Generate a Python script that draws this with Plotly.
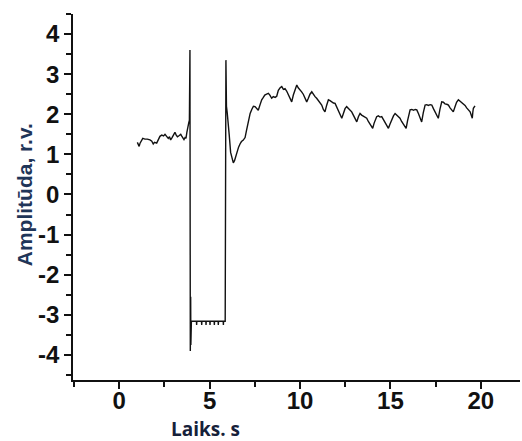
import plotly.graph_objects as go

# Time (s) and amplitude (r.v.)
time_s = [
    1.00, 1.05, 1.10, 1.15, 1.22, 1.30, 1.42, 1.55, 1.70, 1.80, 1.88, 1.95, 2.07, 2.15, 2.25,
    2.35, 2.45, 2.53, 2.62, 2.71, 2.78, 2.84, 2.92, 3.00, 3.08, 3.15, 3.22, 3.32, 3.40, 3.45,
    3.52, 3.58, 3.64, 3.69, 3.74, 3.78, 3.84, 3.88,
    3.91, 3.93, 3.95, 3.96, 3.99,
    4.27, 4.28, 4.29, 4.55, 4.56, 4.57, 4.79, 4.80, 4.81, 5.01, 5.02, 5.03, 5.25, 5.26, 5.27,
    5.47, 5.48, 5.49, 5.75, 5.76, 5.77, 5.86,
    5.90, 5.93, 5.97, 6.02, 6.08, 6.16, 6.24, 6.31, 6.38, 6.45, 6.52, 6.60, 6.68, 6.76, 6.85,
    6.96, 7.04, 7.14, 7.24, 7.33, 7.42, 7.51, 7.60, 7.69, 7.79, 7.88, 7.97, 8.05, 8.15, 8.25,
    8.34, 8.43, 8.52, 8.62, 8.71, 8.80, 8.90, 8.99, 9.08, 9.17, 9.26, 9.35, 9.45, 9.54, 9.63,
    9.72, 9.82, 9.90, 10.00, 10.09, 10.18, 10.28, 10.37, 10.46, 10.55, 10.65, 10.74, 10.83,
    10.92, 11.01, 11.10, 11.20, 11.29, 11.38, 11.47, 11.57, 11.66, 11.75, 11.85, 11.94, 12.03,
    12.12, 12.22, 12.31, 12.40, 12.49, 12.58, 12.67, 12.77, 12.86, 12.95, 13.04, 13.14, 13.23,
    13.32, 13.41, 13.50, 13.60, 13.69, 13.78, 13.87, 13.95, 14.02, 14.10, 14.17, 14.24, 14.33,
    14.43, 14.52, 14.61, 14.70, 14.80, 14.89, 14.98, 15.07, 15.17, 15.26, 15.35, 15.44, 15.53,
    15.62, 15.72, 15.80, 15.87, 15.95, 16.02, 16.09, 16.18, 16.28, 16.37, 16.46, 16.55, 16.64,
    16.73, 16.82, 16.92, 17.01, 17.10, 17.20, 17.29, 17.38, 17.47, 17.56, 17.65, 17.74, 17.84,
    17.93, 18.02, 18.12, 18.21, 18.30, 18.39, 18.48, 18.57, 18.66, 18.76, 18.85, 18.94, 19.04,
    19.13, 19.22, 19.32, 19.41, 19.47, 19.53, 19.56, 19.59, 19.68,
]
amplitude = [
    1.30, 1.25, 1.20, 1.28, 1.34, 1.40, 1.38, 1.38, 1.36, 1.33, 1.26, 1.30, 1.28, 1.36, 1.45,
    1.48, 1.46, 1.50, 1.45, 1.40, 1.44, 1.36, 1.42, 1.48, 1.55, 1.48, 1.44, 1.47, 1.50, 1.46,
    1.40, 1.37, 1.42, 1.40, 1.55, 1.68, 1.78, 1.85,
    3.60, -3.90, -2.55, -3.75, -3.16,
    -3.16, -3.25, -3.16, -3.16, -3.25, -3.16, -3.16, -3.25, -3.16, -3.16, -3.25, -3.16,
    -3.16, -3.25, -3.16, -3.16, -3.25, -3.16, -3.16, -3.25, -3.16, -3.16,
    3.35, 2.20, 2.05, 1.85, 1.50, 1.05, 0.88, 0.79, 0.85, 0.98, 1.08, 1.18, 1.26, 1.32, 1.35,
    1.42, 1.60, 1.86, 2.02, 2.12, 2.20, 2.19, 2.14, 2.10, 2.24, 2.36, 2.42, 2.48, 2.50, 2.52,
    2.47, 2.40, 2.44, 2.42, 2.45, 2.60, 2.66, 2.69, 2.62, 2.64, 2.58, 2.50, 2.40, 2.31, 2.48,
    2.62, 2.73, 2.66, 2.62, 2.56, 2.50, 2.40, 2.31, 2.40, 2.50, 2.56, 2.48, 2.44,
    2.40, 2.35, 2.28, 2.23, 2.12, 2.06, 2.22, 2.36, 2.34, 2.30, 2.28, 2.27, 2.18,
    2.08, 1.98, 1.90, 2.02, 2.14, 2.19, 2.14, 2.10, 2.06, 1.98, 1.90, 1.81, 1.94,
    2.02, 1.98, 1.95, 1.92, 1.90, 1.82, 1.75, 1.68, 1.65, 1.78, 1.88, 1.94, 1.96,
    1.93, 1.94, 1.86, 1.78, 1.72, 1.65, 1.76, 1.88, 1.96, 2.02, 1.98, 1.94, 1.90,
    1.82, 1.74, 1.68, 1.65, 1.84, 2.00, 2.11, 2.12, 2.10, 2.12, 2.11, 2.02, 1.92,
    1.81, 2.04, 2.23, 2.24, 2.22, 2.24, 2.23, 2.14, 2.05, 1.96, 1.90, 2.12, 2.31,
    2.30, 2.26, 2.25, 2.23, 2.16, 2.10, 2.06, 2.18, 2.30, 2.36, 2.33, 2.30, 2.27,
    2.22, 2.16, 2.10, 2.06, 1.98, 1.90, 2.05, 2.15, 2.21,
]

x_ticks = [0, 5, 10, 15, 20]
y_ticks = [-4, -3, -2, -1, 0, 1, 2, 3, 4]
x_title = "Laiks. s"
y_title = "Amplitūda, r.v."

fig = go.Figure()
fig.add_trace(go.Scatter(
    x=time_s, y=amplitude, mode="lines",
    line=dict(color="#111111", width=1.4),
    showlegend=False,
))

tick_font = dict(family="Liberation Sans, Arial, sans-serif", size=24, color="#111111", weight="bold")

fig.update_layout(
    width=522, height=441,
    margin=dict(l=73, r=2, t=14, b=61, autoexpand=False),
    paper_bgcolor="white", plot_bgcolor="white",
    xaxis=dict(
        range=[-2.56, 22.17],
        tickmode="array", tickvals=x_ticks, ticktext=[str(v) for v in x_ticks],
        ticks="outside", ticklen=7, tickwidth=1.5, tickcolor="#111111",
        minor=dict(dtick=2.5, tick0=0, ticks="outside", ticklen=5, tickwidth=1.5, tickcolor="#111111"),
        showline=True, linecolor="#111111", linewidth=1.5,
        showgrid=False, zeroline=False, automargin=False,
        tickfont=tick_font, ticklabelstandoff=-9,
    ),
    yaxis=dict(
        range=[-4.625, 4.5],
        tickmode="array", tickvals=y_ticks, ticktext=[str(v) for v in y_ticks],
        ticks="outside", ticklen=7, tickwidth=1.5, tickcolor="#111111",
        minor=dict(dtick=0.5, tick0=0, ticks="outside", ticklen=5, tickwidth=1.5, tickcolor="#111111"),
        showline=True, linecolor="#111111", linewidth=1.5,
        showgrid=False, zeroline=False, automargin=False,
        tickfont=tick_font,
    ),
    annotations=[
        dict(text=f"<b>{x_title}</b>", xref="paper", yref="paper",
             x=(205 - 73) / 447, y=(379.5 - 428) / 365.5,
             xanchor="center", yanchor="middle", showarrow=False,
             font=dict(family="Open Sans, sans-serif", size=19, color="#16213a")),
        dict(text=f"<b>{y_title}</b>", xref="paper", yref="paper",
             x=(24 - 73) / 447, y=(379.5 - 195) / 365.5, textangle=-90,
             xanchor="center", yanchor="middle", showarrow=False,
             font=dict(family="Liberation Sans, Arial, sans-serif", size=21, color="#1f3558")),
    ],
)

fig.write_html("out.html", config={"displayModeBar": False},
               post_script="document.body.style.margin='0';document.body.style.overflow='hidden';")
